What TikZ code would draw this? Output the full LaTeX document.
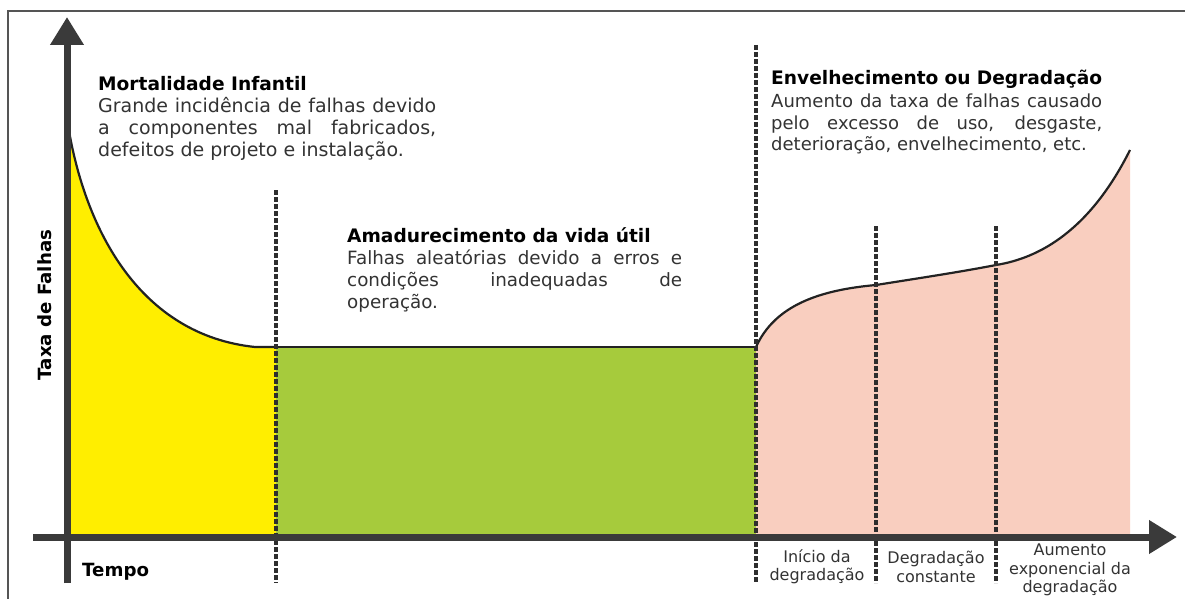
\documentclass[tikz,border=0pt]{standalone}
\usepackage{fontspec}
\setmainfont{DejaVu Sans}
\usetikzlibrary{arrows.meta}
\definecolor{axisgray}{HTML}{3A3A3A}
\definecolor{dashgray}{HTML}{2E2E2E}
\definecolor{framegray}{HTML}{555555}
\definecolor{yel}{HTML}{FFEE00}
\definecolor{grn}{HTML}{A6CB3C}
\definecolor{pnk}{HTML}{F9CEBF}
\definecolor{txt}{HTML}{333333}
\definecolor{curvecol}{HTML}{222222}
\begin{document}
\begin{tikzpicture}[x=1pt,y=-1pt,
  axisline/.style={draw=axisgray, line width=7pt, -{Triangle[length=28pt,width=32pt]}},
  dashline/.style={draw=dashgray, line width=4pt, dash pattern=on 5pt off 2pt},
  curveline/.style={draw=curvecol, line width=2.2pt, line join=round},
  textblock/.style={anchor=base west, inner sep=0pt, text=txt},
  seglabel/.style={align=center, inner sep=0pt, text=txt, font=\fontsize{16}{18.5}\selectfont},
  axislabel/.style={inner sep=0pt, text=black, font=\bfseries\fontsize{18.2}{22}\selectfont}]
\useasboundingbox (0,0) rectangle (1185,599);
\fill[white] (0,0) rectangle (1185,599);

% coloured areas
\fill[yel] (67,537) -- (68,125) .. controls (85,230) and (140,335) .. (255,347) -- (276,347) -- (276,537) -- cycle;
\fill[grn] (276,347) rectangle (756,537);
\fill[pnk] (756,537) -- (756,347) .. controls (775,305) and (820,290) .. (876,285)
  .. controls (920,278) and (960,272) .. (996,265)
  .. controls (1040,258) and (1090,230) .. (1130,150) -- (1130,537) -- cycle;

% curve
\coordinate (c0) at (68,125);
\coordinate (fa) at (276,347);
\coordinate (fb) at (756,347);
\coordinate (c2) at (876,285);
\coordinate (c3) at (996,265);
\coordinate (c4) at (1130,150);
\draw[curveline] (c0) .. controls (85,230) and (140,335) .. (255,347) -- (fa);
\draw[curveline] (fa) -- (fb);
\draw[curveline] (fb) .. controls (775,305) and (820,290) .. (c2)
  .. controls (920,278) and (960,272) .. (c3)
  .. controls (1040,258) and (1090,230) .. (c4);

% dashed separators
\coordinate (d1t) at (276,190); \coordinate (d1b) at (276,583);
\coordinate (d2t) at (756,45);  \coordinate (d2b) at (756,583);
\coordinate (d3t) at (876,226); \coordinate (d3b) at (876,583);
\coordinate (d4t) at (996,226); \coordinate (d4b) at (996,583);
\draw[dashline] (d1t) -- (d1b);
\draw[dashline] (d2t) -- (d2b);
\draw[dashline] (d3t) -- (d3b);
\draw[dashline] (d4t) -- (d4b);

% axes
\coordinate (ya0) at (67,583); \coordinate (ya1) at (67,17);
\coordinate (xa0) at (33,537); \coordinate (xa1) at (1177,537);
\draw[axisline] (ya0) -- (ya1);
\draw[axisline] (xa0) -- (xa1);

% frame
\coordinate (fr0) at (8,599); \coordinate (fr1) at (8,11); \coordinate (fr2) at (1185,11);
\draw[framegray, line width=1.2pt] (fr0) -- (fr1) -- (fr2);

% text blocks
\node[textblock] (b1) at (98,91) {\parbox[t]{338pt}{\fontsize{19}{22}\selectfont\leavevmode
  {\color{black}\bfseries\fontsize{18.6}{22}\selectfont Mortalidade Infantil}\\
  \makebox[\linewidth][s]{Grande incidência de falhas devido}\\
  \makebox[\linewidth][s]{a componentes mal fabricados,}\\
  defeitos de projeto e instalação.}};

\node[textblock] (b2) at (347,242) {\parbox[t]{335pt}{\fontsize{18.3}{22}\selectfont\leavevmode
  {\color{black}\bfseries\fontsize{18.6}{22}\selectfont Amadurecimento da vida útil}\\
  \makebox[\linewidth][s]{Falhas aleatórias devido a erros e}\\
  \makebox[\linewidth][s]{condições inadequadas de}\\
  operação.}};

\node[textblock] (b3) at (771,85) {\parbox[t]{331pt}{\fontsize{18}{22}\selectfont\leavevmode
  {\color{black}\bfseries\fontsize{18.6}{22}\selectfont Envelhecimento ou Degradação}\\
  \makebox[\linewidth][s]{Aumento da taxa de falhas causado}\\
  \makebox[\linewidth][s]{pelo excesso de uso, desgaste,}\\
  deterioração, envelhecimento, etc.}};

% axis labels
\node[axislabel, anchor=base west] (tempo) at (82,576) {Tempo};
\node[axislabel, rotate=90] (taxa) at (45,305) {Taxa de Falhas};

% segment labels
\node[seglabel] (s1) at (817,567) {Início da\\degradação};
\node[seglabel] (s2) at (936,567) {Degradação\\constante};
\node[seglabel] (s3) at (1070,570) {Aumento\\exponencial da\\degradação};
\end{tikzpicture}
\end{document}
